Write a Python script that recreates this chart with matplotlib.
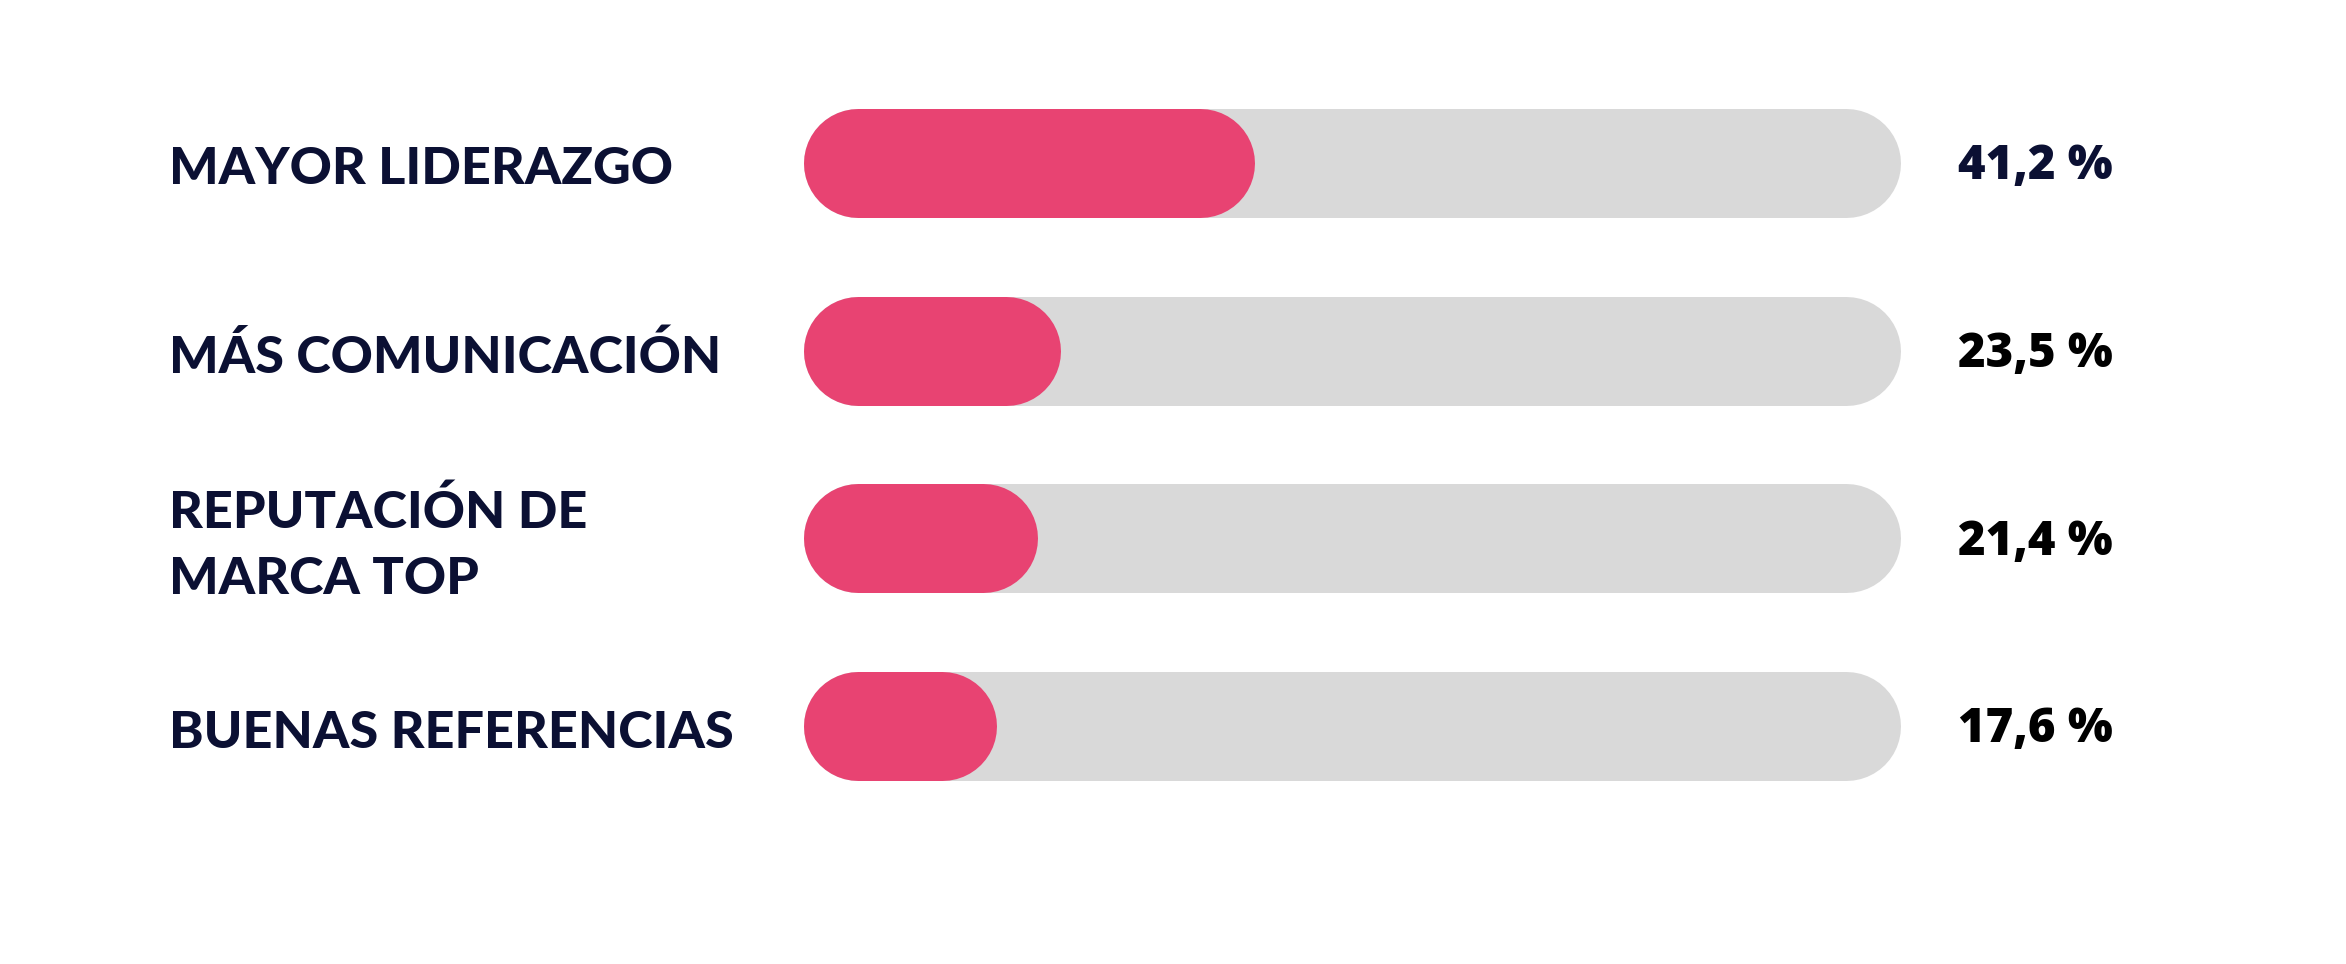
import matplotlib
matplotlib.use("Agg")
import matplotlib.pyplot as plt
from matplotlib.transforms import blended_transform_factory, offset_copy

# data
labels = ["MAYOR LIDERAZGO", "MÁS COMUNICACIÓN", "REPUTACIÓN DE\nMARCA TOP", "BUENAS REFERENCIAS"]
values = [41.2, 23.5, 21.4, 17.6]
value_texts = ["41,2 %", "23,5 %", "21,4 %", "17,6 %"]
value_colors = ["#0b1033", "#000000", "#000000", "#000000"]

PINK = "#e84372"
GREY = "#d9d9d9"
NAVY = "#0b1033"

W, H, DPI = 2346, 964, 100
fig = plt.figure(figsize=(W / DPI, H / DPI), dpi=DPI)
fig.patch.set_facecolor("white")

# axes spans the track area horizontally, full figure vertically
track_left, track_right = 803, 1900
ax = fig.add_axes([track_left / W, 0, (track_right - track_left) / W, 1])
ax.set_xlim(0, 100)
first_c, step = 163, 187.7
ax.set_ylim((H - first_c) / step, -first_c / step)
ax.axis("off")

bar_px = 109
lw = bar_px * 72 / DPI
r = (bar_px / 2) / (track_right - track_left) * 100  # cap radius in x units

for i, v in enumerate(values):
    ax.plot([r, 100 - r], [i, i], color=GREY, lw=lw, solid_capstyle="round",
            zorder=1, clip_on=False)
    ax.plot([r, v - r], [i, i], color=PINK, lw=lw, solid_capstyle="round",
            zorder=2, clip_on=False)

tr = blended_transform_factory(fig.transFigure, ax.transData)
tr_lab = offset_copy(tr, fig=fig, x=0, y=-5, units="points")
tr_val = offset_copy(tr, fig=fig, x=0, y=-3, units="points")
for i, (lab, vt, vc) in enumerate(zip(labels, value_texts, value_colors)):
    ax.text(169 / W, i, lab, transform=tr_lab, ha="left", va="center",
            fontsize=37.5, fontweight="black", family=["Lato", "DejaVu Sans"],
            color=NAVY, linespacing=1.5)
    ax.text(1958 / W, i, vt, transform=tr_val, ha="left", va="center",
            fontsize=34, fontweight="heavy", family=["Open Sans", "DejaVu Sans"],
            color=vc)

fig.savefig("out.png", dpi=DPI, facecolor="white")
